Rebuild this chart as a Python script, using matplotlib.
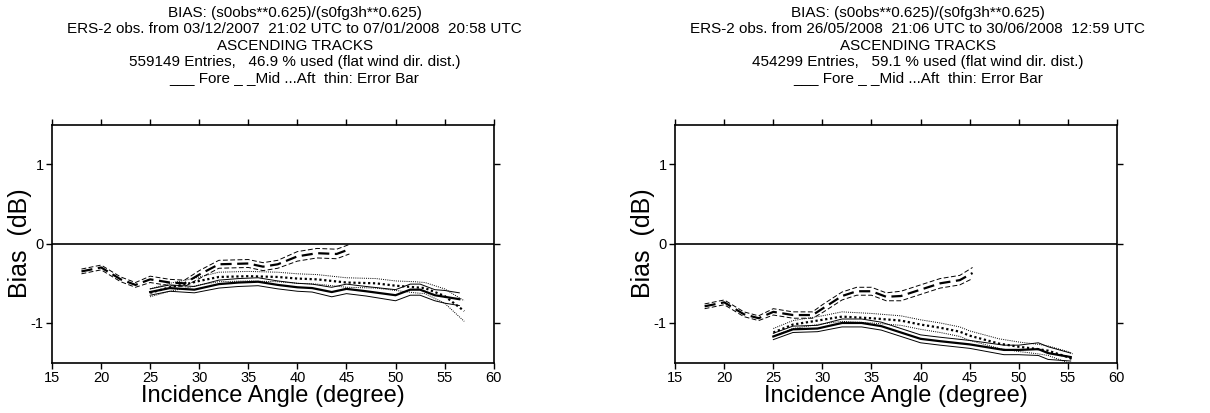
import numpy as np
from matplotlib import pyplot as plt

plt.rcParams['font.family'] = ['Liberation Sans', 'DejaVu Sans']
plt.rcParams['axes.unicode_minus'] = False

# ---- left panel (03/12/2007 - 07/01/2008)
ang_mid_l = [18, 20, 22, 23.5, 25, 27, 28.5, 30, 32, 35, 36.5, 38, 40, 42, 44, 45.3]
mid_l = [-0.35, -0.30, -0.45, -0.52, -0.45, -0.49, -0.50, -0.39, -0.26, -0.25, -0.29, -0.26, -0.16, -0.12, -0.13, -0.07]
err_mid_l = [0.03, 0.03, 0.03, 0.03, 0.04, 0.04, 0.04, 0.05, 0.05, 0.05, 0.05, 0.05, 0.06, 0.06, 0.06, 0.06]

ang_fore_l = [25, 27, 29.5, 32, 34, 36, 38, 40, 41.5, 43.5, 45, 47, 50, 51.5, 52.5, 54, 55, 56.5]
fore_l = [-0.61, -0.56, -0.58, -0.51, -0.49, -0.48, -0.52, -0.55, -0.56, -0.61, -0.57, -0.60, -0.65, -0.58, -0.58, -0.65, -0.67, -0.70]
err_fore_l = [0.04, 0.04, 0.04, 0.05, 0.05, 0.05, 0.05, 0.05, 0.05, 0.06, 0.06, 0.06, 0.07, 0.07, 0.07, 0.07, 0.08, 0.08]

ang_aft_l = [25, 27, 29, 30, 32, 35, 38, 40, 42, 45, 48, 50, 52, 53, 55, 57]
aft_l = [-0.62, -0.55, -0.50, -0.47, -0.42, -0.41, -0.42, -0.44, -0.45, -0.49, -0.50, -0.53, -0.55, -0.56, -0.66, -0.85]
err_aft_l = [0.05, 0.05, 0.05, 0.05, 0.06, 0.06, 0.06, 0.06, 0.06, 0.06, 0.06, 0.06, 0.07, 0.07, 0.09, 0.13]

# ---- right panel (26/05/2008 - 30/06/2008)
ang_mid_r = [18, 20, 22, 23.5, 25, 27, 29, 30, 32, 33.5, 35, 36.5, 38, 40, 42, 44, 45.3]
mid_r = [-0.79, -0.74, -0.89, -0.94, -0.86, -0.90, -0.90, -0.82, -0.66, -0.60, -0.60, -0.67, -0.66, -0.58, -0.50, -0.46, -0.37]
err_mid_r = [0.03, 0.03, 0.03, 0.03, 0.04, 0.04, 0.04, 0.05, 0.05, 0.05, 0.05, 0.05, 0.06, 0.06, 0.06, 0.06, 0.07]

ang_fore_r = [25, 27, 29.5, 32, 34, 36, 38, 40, 42, 45, 48.5, 50, 52, 53, 55.3]
fore_r = [-1.17, -1.08, -1.07, -1.00, -1.00, -1.04, -1.12, -1.20, -1.23, -1.27, -1.34, -1.34, -1.33, -1.38, -1.43]
err_fore_r = [0.04, 0.04, 0.04, 0.05, 0.05, 0.05, 0.05, 0.05, 0.05, 0.05, 0.06, 0.06, 0.08, 0.08, 0.05]

ang_aft_r = [25, 27, 30, 32, 35, 38, 40, 42, 44, 45, 48, 50, 52, 53, 55, 55.5]
aft_r = [-1.12, -1.02, -0.96, -0.92, -0.94, -0.97, -1.02, -1.06, -1.11, -1.16, -1.26, -1.30, -1.33, -1.35, -1.43, -1.46]
err_aft_r = [0.05, 0.05, 0.05, 0.06, 0.06, 0.06, 0.06, 0.06, 0.06, 0.06, 0.06, 0.06, 0.06, 0.06, 0.07, 0.07]

titulos = [
    ['BIAS: (s0obs**0.625)/(s0fg3h**0.625)',
     'ERS-2 obs. from 03/12/2007  21:02 UTC to 07/01/2008  20:58 UTC',
     'ASCENDING TRACKS',
     '559149 Entries,   46.9 % used (flat wind dir. dist.)',
     '___ Fore _ _Mid ...Aft  thin: Error Bar'],
    ['BIAS: (s0obs**0.625)/(s0fg3h**0.625)',
     'ERS-2 obs. from 26/05/2008  21:06 UTC to 30/06/2008  12:59 UTC',
     'ASCENDING TRACKS',
     '454299 Entries,   59.1 % used (flat wind dir. dist.)',
     '___ Fore _ _Mid ...Aft  thin: Error Bar'],
]

paneles = [
    [(ang_fore_l, fore_l, err_fore_l), (ang_mid_l, mid_l, err_mid_l), (ang_aft_l, aft_l, err_aft_l)],
    [(ang_fore_r, fore_r, err_fore_r), (ang_mid_r, mid_r, err_mid_r), (ang_aft_r, aft_r, err_aft_r)],
]
estilos = [dict(linestyle='-'), dict(linestyle=(0, (5, 2.5))), dict(linestyle=(0, (1, 1.2)))]

fig = plt.figure(figsize=(12.1, 4.13), dpi=100)
posiciones = [[0.043, 0.122, 0.365, 0.576], [0.558, 0.122, 0.365, 0.576]]

for p in range(2):
    ax = fig.add_axes(posiciones[p])
    for (a, m, e), est in zip(paneles[p], estilos):
        a = np.array(a); m = np.array(m); e = np.array(e)
        ax.plot(a, m, color='k', lw=1.6, **est)
        ax.plot(a, m + e, color='k', lw=0.7, **est)
        ax.plot(a, m - e, color='k', lw=0.7, **est)
    ax.axhline(0, color='k', lw=1.2)
    ax.set_xlim(15, 60)
    ax.set_ylim(-1.5, 1.5)
    ax.set_xticks(np.arange(15, 61, 5))
    ax.set_yticks([-1, 0, 1])
    ax.tick_params(direction='out', top=True, right=True, length=4, width=1, labelsize=10.5, pad=2)
    for s in ax.spines.values():
        s.set_linewidth(1.2)
    ax.set_xlabel('Incidence Angle (degree)', fontsize=17, labelpad=0)
    ax.set_ylabel('Bias  (dB)', fontsize=18)
    ax.yaxis.set_label_coords(-0.046, 0.5)
    x0 = posiciones[p][0] + posiciones[p][2] / 2 + 0.018
    fig.text(x0, 0.985, '\n'.join(titulos[p]), ha='center', va='top', fontsize=11, linespacing=1.2)

plt.savefig('out.png', dpi=100)
